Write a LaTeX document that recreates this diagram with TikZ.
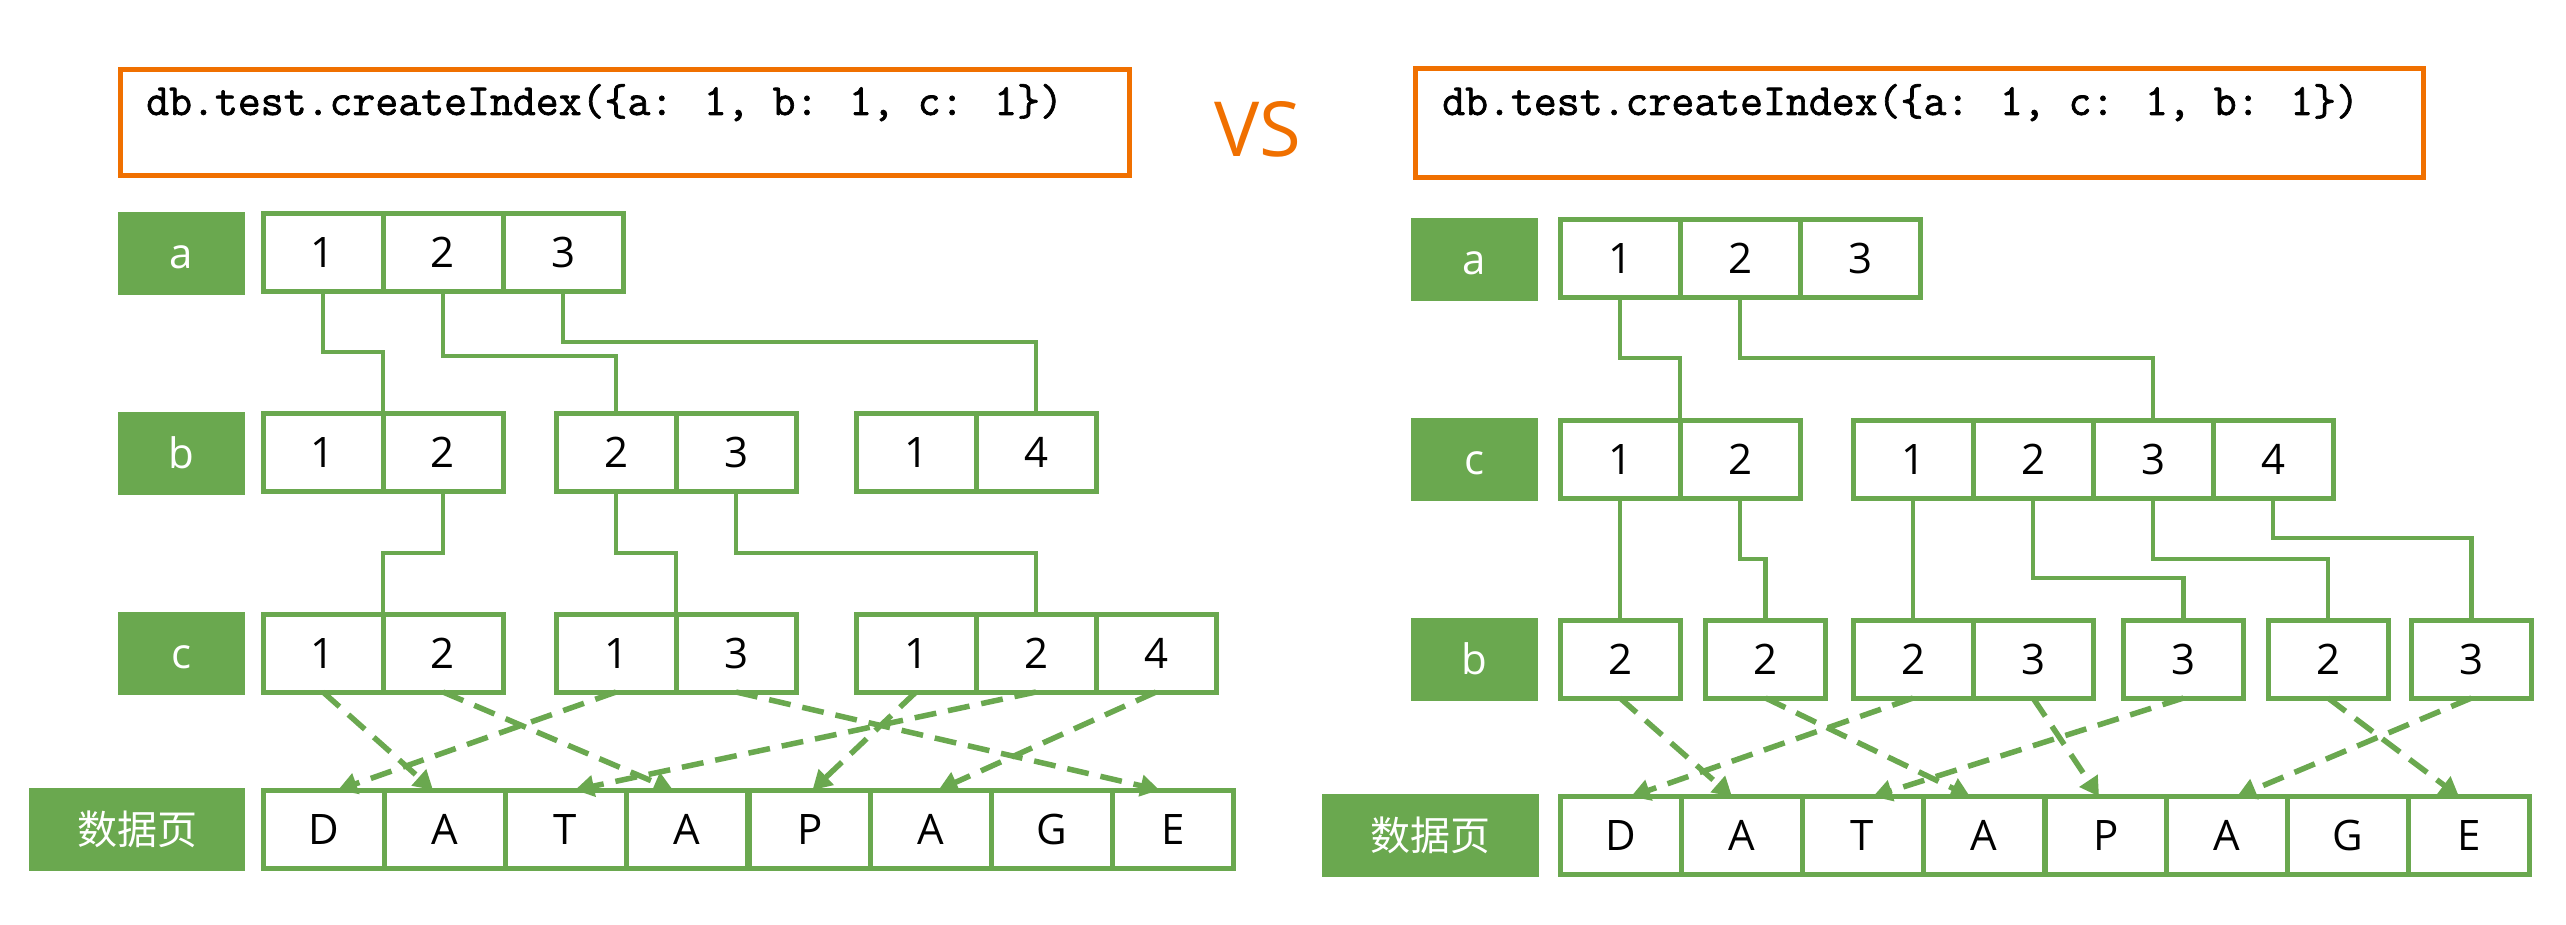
\documentclass[tikz,border=0pt]{standalone}
\usepackage{fontspec}
\setmainfont{Open Sans}
\newfontfamily\cjkfont{Noto Sans CJK SC}
\newfontfamily\codefont{Latin Modern Mono}[FakeBold=1.5]
\usetikzlibrary{arrows.meta,calc}
\definecolor{G}{HTML}{6AA84F}
\definecolor{OR}{HTML}{F07000}
\begin{document}
\begin{tikzpicture}[x=1pt,y=-1pt,
  cell/.style={draw=G, line width=5pt, minimum width=120pt, minimum height=78pt,
    inner sep=0pt, outer sep=0pt, text height=30pt, text depth=0pt,
    font=\fontsize{42}{50}\selectfont},
  dcell/.style={cell, minimum width=121pt},
  lab/.style={fill=G, text=white, minimum width=127pt, minimum height=83pt,
    inner sep=0pt, outer sep=0pt, text height=30pt, text depth=0pt,
    font=\fontsize{42}{50}\selectfont},
  codebox/.style={draw=OR, line width=5.5pt, inner sep=0pt, outer sep=0pt},
  code/.style={anchor=base west, inner sep=0pt, font=\fontsize{44.5}{50}\selectfont\codefont},
  conn/.style={draw=G, line width=4.5pt},
  darr/.style={draw=G, line width=5.5pt, dash pattern=on 22pt off 12pt,
    -{Triangle[length=19pt,width=21pt]}},
]
\fill[white] (0,0) rectangle (2566,925);
\useasboundingbox (0,0) rectangle (2566,925);

% ---------- left panel ----------
\node[codebox, minimum width=1009pt, minimum height=106pt] (codeL) at (625,122.5) {};
\node[code] (codeLt) at (146,115) {db.test.createIndex(\{a: 1, b: 1, c: 1\})};
\node[anchor=base, inner sep=0pt, text=OR, font=\fontsize{76}{80}\selectfont] (vs) at (1258,157) {VS};

\node[lab] (LlabA) at (181.5,253.5) {a};
\node[lab] (LlabB) at (181.5,453) {b};
\node[lab] (LlabC) at (181.5,653) {c};
\node[lab, minimum width=216pt] (LlabD) at (137,829) {\cjkfont\fontsize{40}{48}\selectfont 数据页};

\node[cell] (La1) at (323,252.5) {1};
\node[cell] (La2) at (443,252.5) {2};
\node[cell] (La3) at (563,252.5) {3};

\node[cell] (Lb1) at (323,452.5) {1};
\node[cell] (Lb2) at (443,452.5) {2};
\node[cell] (Lb3) at (616,452.5) {2};
\node[cell] (Lb4) at (736,452.5) {3};
\node[cell] (Lb5) at (916,452.5) {1};
\node[cell] (Lb6) at (1036,452.5) {4};

\node[cell] (Lc1) at (323,653) {1};
\node[cell] (Lc2) at (443,653) {2};
\node[cell] (Lc3) at (616,653) {1};
\node[cell] (Lc4) at (736,653) {3};
\node[cell] (Lc5) at (916,653) {1};
\node[cell] (Lc6) at (1036,653) {2};
\node[cell] (Lc7) at (1156,653) {4};

\node[dcell] (LD1) at (323.5,829) {D};
\node[dcell] (LD2) at (444.5,829) {A};
\node[dcell] (LD3) at (565.5,829) {T};
\node[dcell] (LD4) at (686.5,829) {A};
\node[dcell] (LD5) at (810,829) {P};
\node[dcell] (LD6) at (931,829) {A};
\node[dcell] (LD7) at (1052,829) {G};
\node[dcell] (LD8) at (1173,829) {E};

\draw[conn] (La1.south) -- ++(0,60.5) -| (Lb1.north east);
\draw[conn] (La2.south) -- ++(0,64.5) -| (Lb3.north);
\draw[conn] (La3.south) -- ++(0,50.5) -| (Lb6.north);
\draw[conn] (Lb2.south) -- ++(0,61.5) -| (Lc1.north east);
\draw[conn] (Lb3.south) -- ++(0,61.5) -| (Lc3.north east);
\draw[conn] (Lb4.south) -- ++(0,61.5) -| (Lc6.north);

\draw[darr] (Lc1.south) -- ($(LD2.north)+(-11.5,0)$);
\draw[darr] (Lc2.south) -- ($(LD4.north)+(-13.5,0)$);
\draw[darr] (Lc3.south) -- ($(LD1.north)+(14.5,0)$);
\draw[darr] (Lc4.south) -- ($(LD8.north)+(-13.5,0)$);
\draw[darr] (Lc5.south) -- ($(LD5.north)+(2.5,0)$);
\draw[darr] (Lc6.south) -- ($(LD3.north)+(9.5,0)$);
\draw[darr] (Lc7.south) -- ($(LD6.north)+(7.5,0)$);

% ---------- right panel ----------
\node[codebox, minimum width=1008pt, minimum height=109pt] (codeR) at (1919.5,123) {};
\node[code] (codeRt) at (1442,115) {db.test.createIndex(\{a: 1, c: 1, b: 1\})};

\node[lab] (RlabA) at (1474.5,259.5) {a};
\node[lab] (RlabC) at (1474.5,459) {c};
\node[lab] (RlabB) at (1474.5,659) {b};
\node[lab, minimum width=217pt] (RlabD) at (1430.5,835.5) {\cjkfont\fontsize{40}{48}\selectfont 数据页};

\node[cell] (Ra1) at (1620,258.5) {1};
\node[cell] (Ra2) at (1740,258.5) {2};
\node[cell] (Ra3) at (1860,258.5) {3};

\node[cell] (Rc1) at (1620,459) {1};
\node[cell] (Rc2) at (1740,459) {2};
\node[cell] (Rc3) at (1913,459) {1};
\node[cell] (Rc4) at (2033,459) {2};
\node[cell] (Rc5) at (2153,459) {3};
\node[cell] (Rc6) at (2273,459) {4};

\node[cell] (Rb1) at (1620,659) {2};
\node[cell] (Rb2) at (1765.5,659) {2};
\node[cell] (Rb3) at (1913,659) {2};
\node[cell] (Rb4) at (2033,659) {3};
\node[cell] (Rb5) at (2183.5,659) {3};
\node[cell] (Rb6) at (2328,659) {2};
\node[cell] (Rb7) at (2471.5,659) {3};

\node[dcell] (RD1) at (1620.5,835.5) {D};
\node[dcell] (RD2) at (1741.5,835.5) {A};
\node[dcell] (RD3) at (1862.5,835.5) {T};
\node[dcell] (RD4) at (1983.5,835.5) {A};
\node[dcell] (RD5) at (2106,835.5) {P};
\node[dcell] (RD6) at (2227,835.5) {A};
\node[dcell] (RD7) at (2348,835.5) {G};
\node[dcell] (RD8) at (2469,835.5) {E};

\draw[conn] (Ra1.south) -- ++(0,60.5) -| (Rc1.north east);
\draw[conn] (Ra2.south) -- ++(0,60.5) -| (Rc5.north);
\draw[conn] (Rc1.south) -- (Rb1.north);
\draw[conn] (Rc2.south) -- ++(0,61) -| (Rb2.north);
\draw[conn] (Rc3.south) -- (Rb3.north);
\draw[conn] (Rc4.south) -- ++(0,80) -| (Rb5.north);
\draw[conn] (Rc5.south) -- ++(0,61) -| (Rb6.north);
\draw[conn] (Rc6.south) -- ++(0,40) -| (Rb7.north);

\draw[darr] (Rb1.south) -- ($(RD2.north)+(-9.5,0)$);
\draw[darr] (Rb2.south) -- ($(RD4.north)+(-13.5,0)$);
\draw[darr] (Rb3.south) -- ($(RD1.north)+(10.5,0)$);
\draw[darr] (Rb4.south) -- ($(RD5.north)+(-7,0)$);
\draw[darr] (Rb5.south) -- ($(RD3.north)+(10.5,0)$);
\draw[darr] (Rb6.south) -- ($(RD8.north)+(-10,0)$);
\draw[darr] (Rb7.south) -- ($(RD6.north)+(10,0)$);
\end{tikzpicture}
\end{document}
